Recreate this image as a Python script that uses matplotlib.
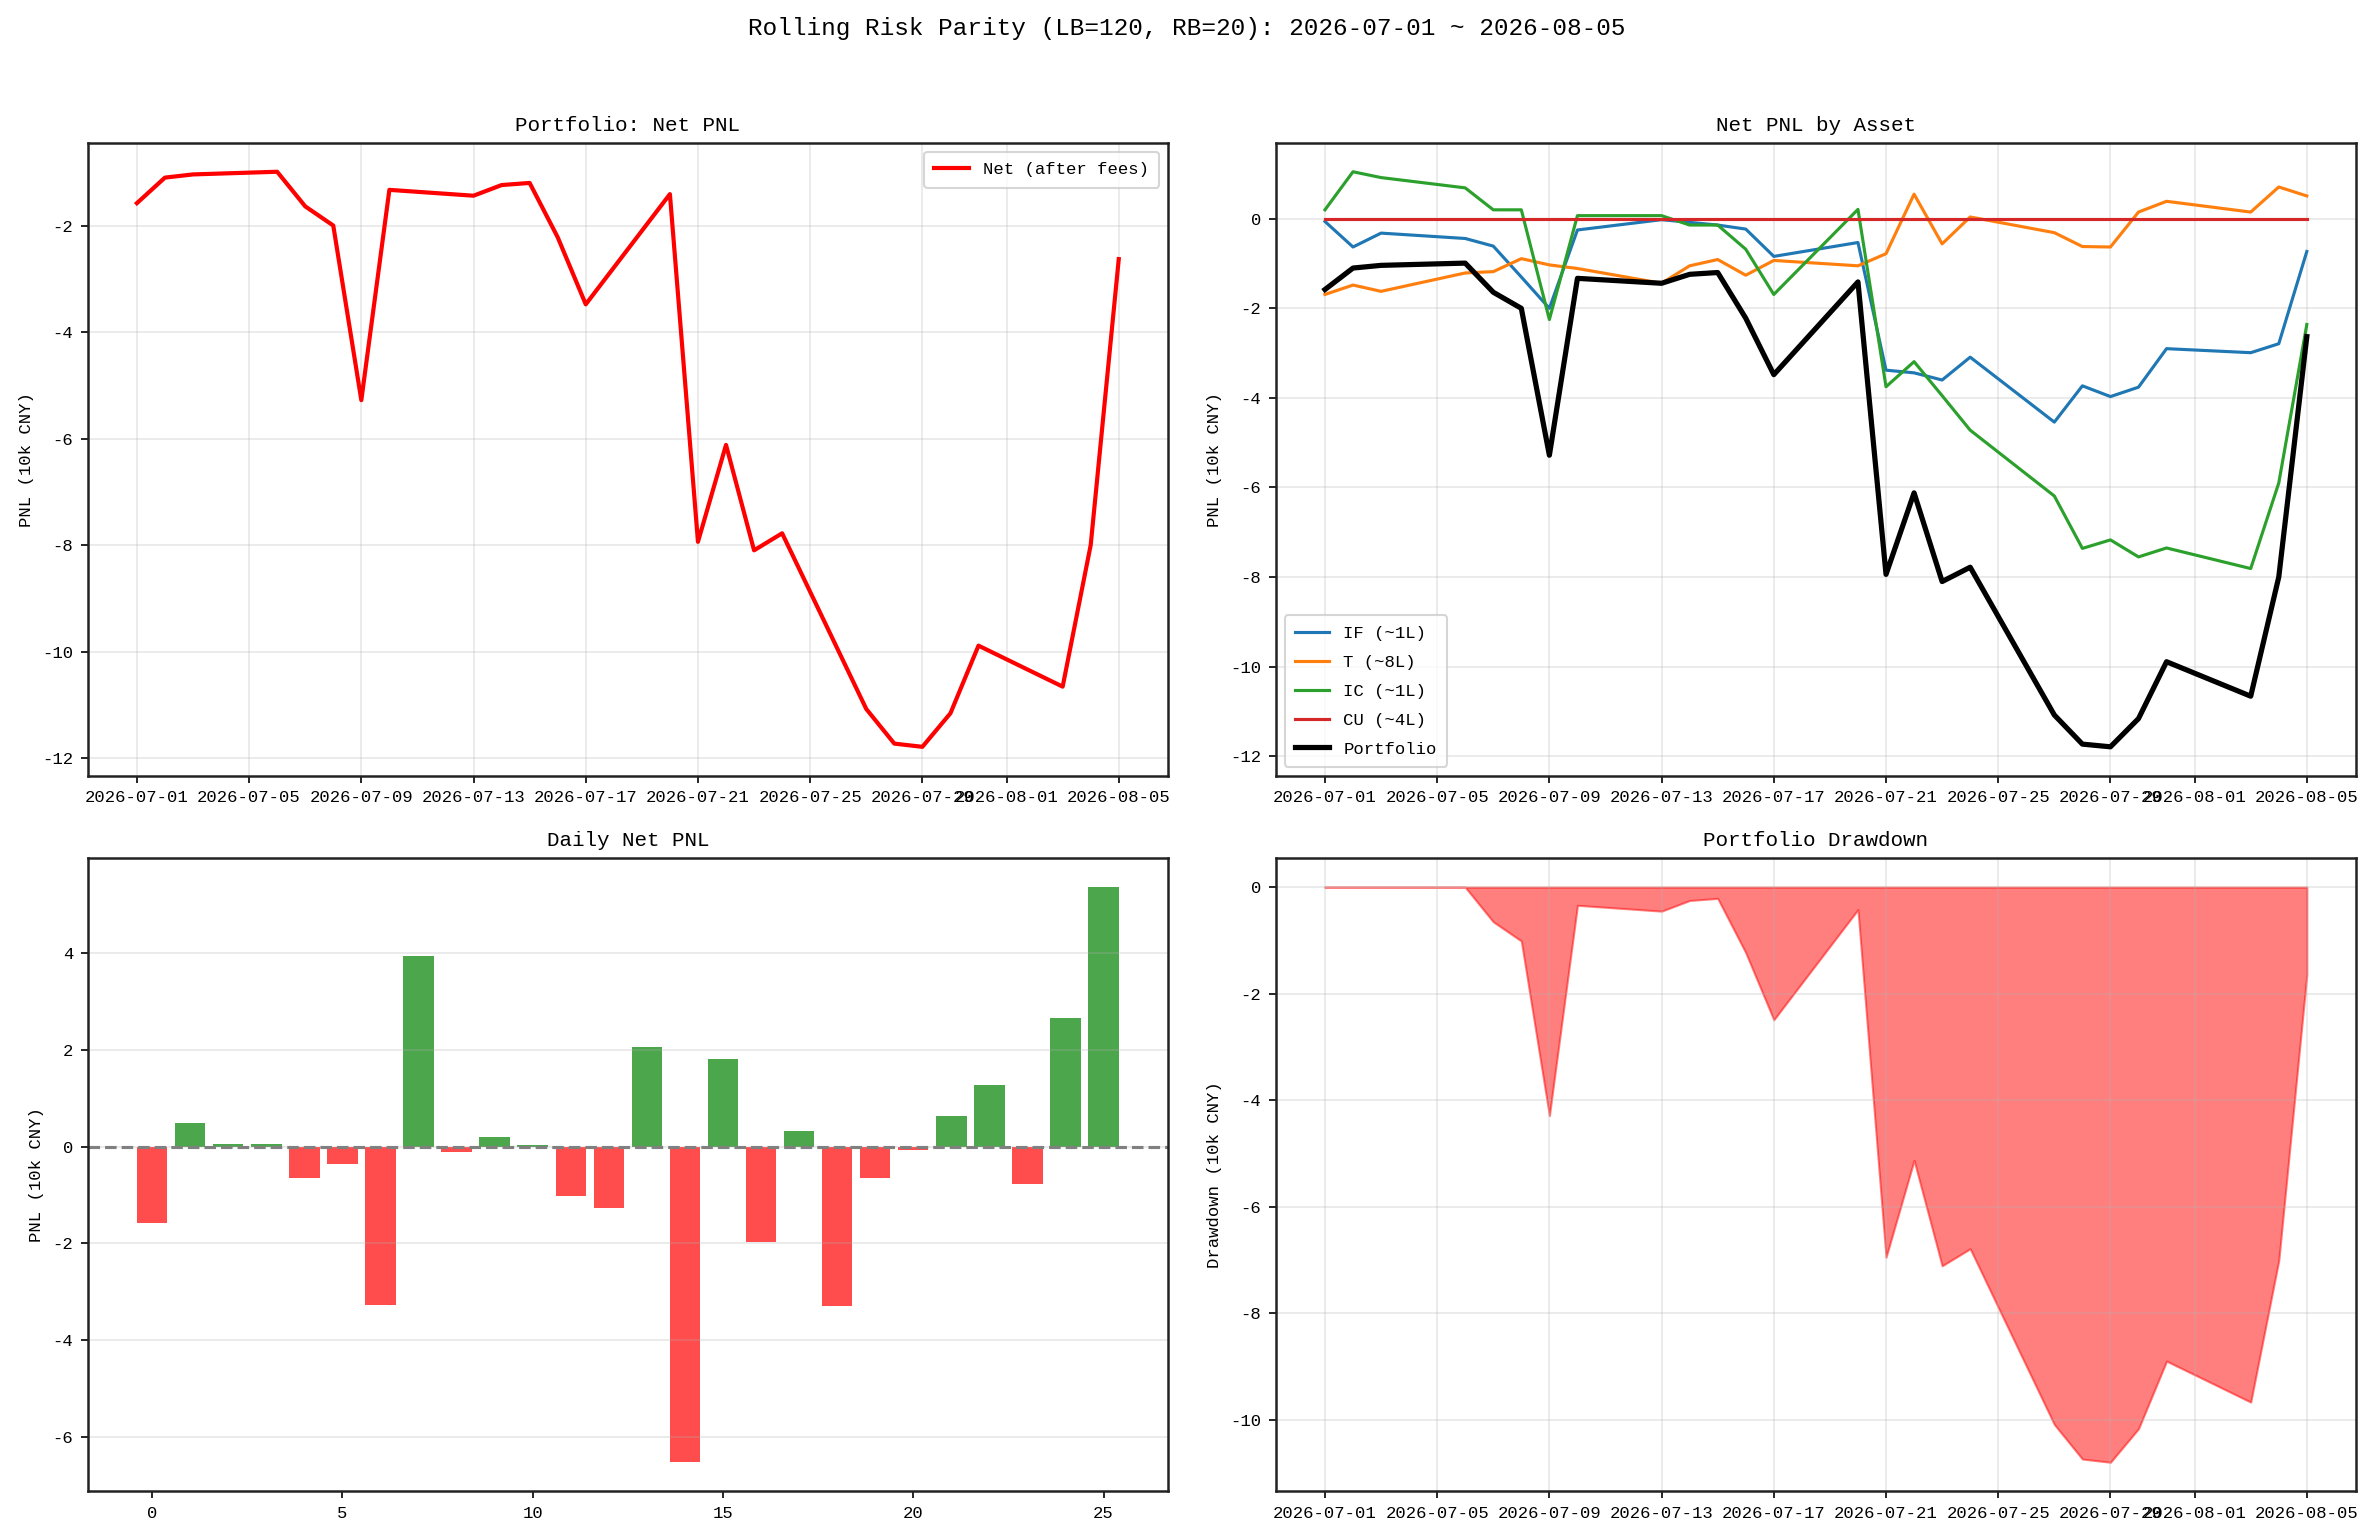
import pandas as pd
import matplotlib
matplotlib.use("Agg")
import matplotlib.pyplot as plt

plt.rcParams['font.family'] = ['Liberation Mono', 'DejaVu Sans']
plt.rcParams['axes.unicode_minus'] = False

# trading days in the window
dates = ["2026-07-01", "2026-07-02", "2026-07-03", "2026-07-06", "2026-07-07",
         "2026-07-08", "2026-07-09", "2026-07-10", "2026-07-13", "2026-07-14",
         "2026-07-15", "2026-07-16", "2026-07-17", "2026-07-20", "2026-07-21",
         "2026-07-22", "2026-07-23", "2026-07-24", "2026-07-27", "2026-07-28",
         "2026-07-29", "2026-07-30", "2026-07-31", "2026-08-03", "2026-08-04",
         "2026-08-05"]

# daily net pnl of the portfolio (10k CNY)
daily_net = [-1.58, 0.48, 0.06, 0.05, -0.65, -0.36, -3.28, 3.95, -0.11, 0.20,
             0.04, -1.02, -1.26, 2.07, -6.53, 1.82, -1.98, 0.32, -3.30, -0.65,
             -0.06, 0.63, 1.27, -0.77, 2.66, 5.37]

# cumulative net pnl per asset (10k CNY)
pnl_if = [-0.06, -0.63, -0.32, -0.44, -0.61, -1.30, -2.00, -0.25, -0.02, -0.08,
          -0.14, -0.23, -0.84, -0.53, -3.38, -3.44, -3.60, -3.09, -4.54, -3.73,
          -3.97, -3.76, -2.90, -2.99, -2.79, -0.73]
pnl_t = [-1.69, -1.48, -1.62, -1.21, -1.18, -0.89, -1.03, -1.11, -1.44, -1.05,
         -0.91, -1.26, -0.93, -1.05, -0.78, 0.55, -0.56, 0.04, -0.31, -0.62,
         -0.63, 0.15, 0.39, 0.15, 0.71, 0.51]
pnl_ic = [0.20, 1.05, 0.92, 0.69, 0.20, 0.20, -2.25, 0.07, 0.07, -0.14,
          -0.14, -0.68, -1.69, 0.21, -3.75, -3.19, -3.95, -4.72, -6.19, -7.36,
          -7.17, -7.55, -7.35, -7.81, -5.90, -2.36]
pnl_cu = [0.0] * 26

asset_labels = ["IF (~1L)", "T (~8L)", "IC (~1L)", "CU (~4L)"]
asset_colors = ["tab:blue", "tab:orange", "tab:green", "tab:red"]

x = pd.to_datetime(dates)
net = pd.Series(daily_net, index=x)
cum = net.cumsum()
drawdown = cum - cum.cummax()

fig, axes = plt.subplots(2, 2, figsize=(15.82, 10.24), dpi=150)
fig.subplots_adjust(left=0.037, right=0.9928, top=0.9069, bottom=0.0293,
                    wspace=0.1, hspace=0.131)
fig.suptitle("Rolling Risk Parity (LB=120, RB=20): 2026-07-01 ~ 2026-08-05",
             fontsize=11.7, y=0.989)

fs_tick = 8.3
fs_title = 10

# portfolio net pnl
ax = axes[0, 0]
ax.plot(x, cum.values, color="red", linewidth=2, label="Net (after fees)")
ax.set_title("Portfolio: Net PNL", fontsize=fs_title)
ax.set_ylabel("PNL (10k CNY)", fontsize=fs_tick)
ax.legend(loc="upper right", fontsize=fs_tick, borderpad=0.6)
ax.grid(True, alpha=0.3)

# by asset
ax = axes[0, 1]
for vals, lab, col in zip([pnl_if, pnl_t, pnl_ic, pnl_cu], asset_labels, asset_colors):
    ax.plot(x, vals, color=col, linewidth=1.5, label=lab)
ax.plot(x, cum.values, color="black", linewidth=2.5, label="Portfolio")
ax.set_title("Net PNL by Asset", fontsize=fs_title)
ax.set_ylabel("PNL (10k CNY)", fontsize=fs_tick)
ax.legend(loc="lower left", fontsize=fs_tick, labelspacing=0.8, borderpad=0.6)
ax.grid(True, alpha=0.3)

# daily bars
ax = axes[1, 0]
bar_colors = ["green" if v > 0 else "red" for v in daily_net]
ax.bar(range(len(daily_net)), daily_net, color=bar_colors, alpha=0.7)
ax.axhline(0, color="gray", linestyle="--", linewidth=1.5)
ax.set_title("Daily Net PNL", fontsize=fs_title)
ax.set_ylabel("PNL (10k CNY)", fontsize=fs_tick)
ax.grid(True, alpha=0.3, axis="y")

# drawdown
ax = axes[1, 1]
ax.fill_between(x, drawdown.values, 0, color="red", alpha=0.5)
ax.set_title("Portfolio Drawdown", fontsize=fs_title)
ax.set_ylabel("Drawdown (10k CNY)", fontsize=fs_tick)
ax.grid(True, alpha=0.3)

for ax in axes.flat:
    ax.tick_params(labelsize=fs_tick)
    for sp in ax.spines.values():
        sp.set_linewidth(1.2)
        sp.set_color("#222222")

fig.savefig("out.png", dpi=150)
